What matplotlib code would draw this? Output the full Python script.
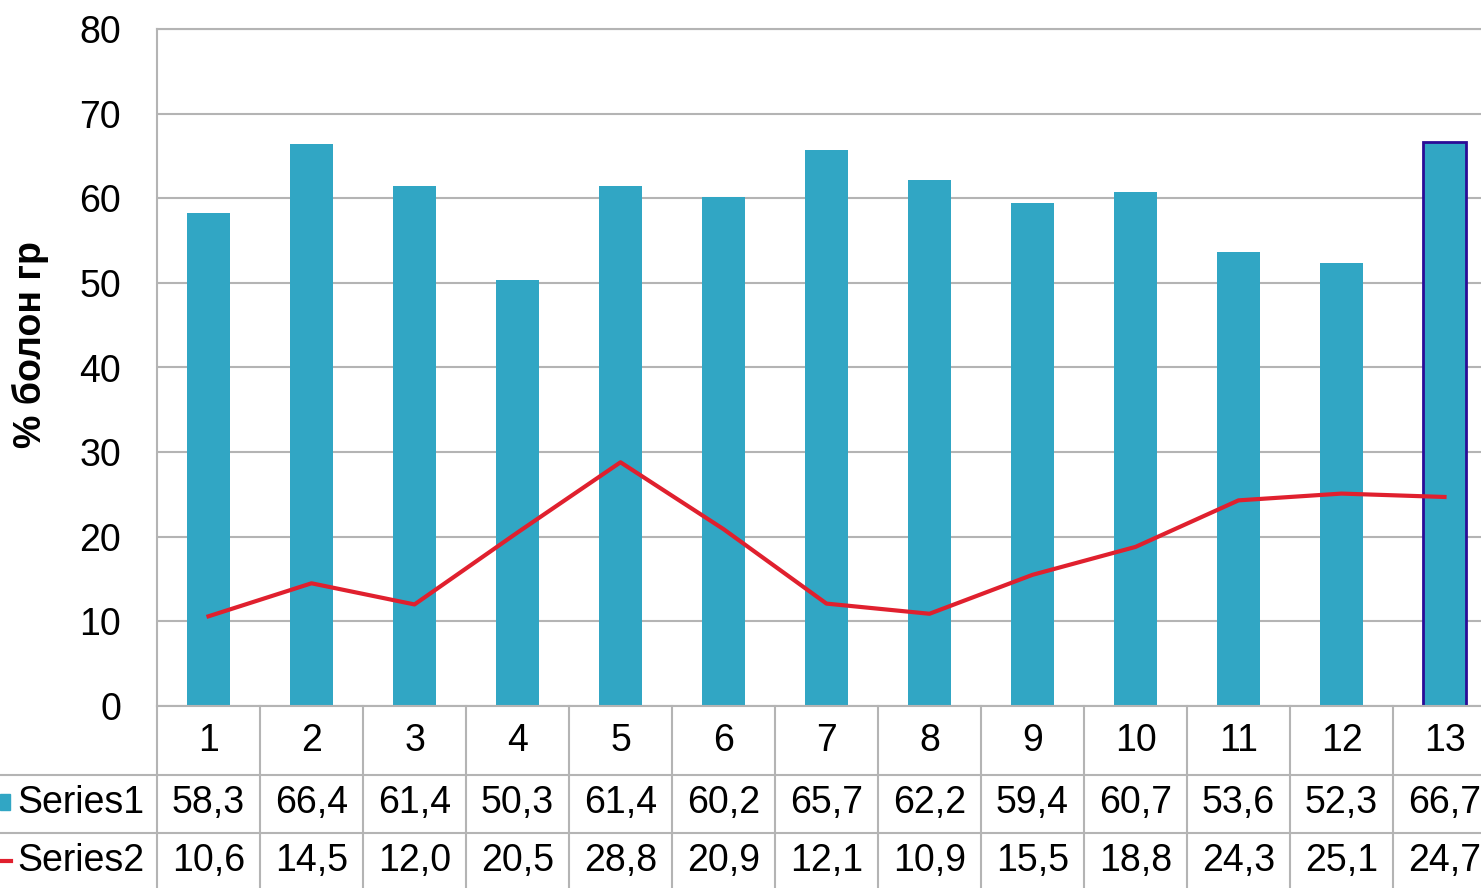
import matplotlib

matplotlib.use("Agg")
import matplotlib.pyplot as plt
from matplotlib.transforms import blended_transform_factory
from matplotlib.lines import Line2D
from matplotlib.patches import Rectangle

categories = ["1", "2", "3", "4", "5", "6", "7", "8", "9", "10", "11", "12", "13"]
series1 = [58.3, 66.4, 61.4, 50.3, 61.4, 60.2, 65.7, 62.2, 59.4, 60.7, 53.6, 52.3, 66.7]
series2 = [10.6, 14.5, 12.0, 20.5, 28.8, 20.9, 12.1, 10.9, 15.5, 18.8, 24.3, 25.1, 24.7]
series_names = ["Series1", "Series2"]
y_label = "% болон гр"

W, H = 1481, 888
BAR_COLOR = "#31A6C4"
LINE_COLOR = "#E0202E"
GRID_COLOR = "#B4B4B4"
FS = 27

plt.rcParams["font.family"] = ["Liberation Sans", "DejaVu Sans"]

fig = plt.figure(figsize=(W / 100, H / 100), dpi=100)
left, right, top, bottom = 157, 1496, 29, 706
ax = fig.add_axes([left / W, 1 - bottom / H, (right - left) / W, (bottom - top) / H])

x = list(range(len(categories)))
bars = ax.bar(x, series1, width=0.41, color=BAR_COLOR, zorder=2)
# last bar is shown selected in the original
bars[-1].set_edgecolor("#2A0C96")
bars[-1].set_linewidth(2)
ax.plot(x, series2, color=LINE_COLOR, lw=3, zorder=3)

ax.set_xlim(-0.5, len(categories) - 0.5)
ax.set_ylim(0, 80)
ax.set_yticks(range(0, 81, 10))
ax.yaxis.grid(True, color=GRID_COLOR, lw=1.5, zorder=0)
ax.set_axisbelow(True)
ax.set_xticks([])
ax.tick_params(axis="y", length=0, pad=26, labelsize=FS)
for s in ax.spines.values():
    s.set_color(GRID_COLOR)
    s.set_linewidth(1.5)

fig.text(30 / W, 1 - 345 / H, y_label, rotation=90, ha="center", va="center",
         fontsize=FS, fontweight="bold")

# data table below the plot
tr = blended_transform_factory(ax.transData, fig.transFigure)
def fy(py):
    return 1 - py / H

row_lines = [775, 833]
for py in row_lines:
    fig.add_artist(Line2D([0, 1], [fy(py), fy(py)], color=GRID_COLOR, lw=1.5))
for i in range(len(categories) + 1):
    ax.add_line(Line2D([i - 0.5, i - 0.5], [fy(bottom), fy(H + 5)], color=GRID_COLOR,
                       lw=1.5, transform=tr, clip_on=False))

row_y = [741, 803, 861]
for i, cat in enumerate(categories):
    ax.text(i, fy(row_y[0]), cat, transform=tr, ha="center", va="center", fontsize=FS)
    ax.text(i, fy(row_y[1]), f"{series1[i]:.1f}".replace(".", ","), transform=tr,
            ha="center", va="center", fontsize=FS)
    ax.text(i, fy(row_y[2]), f"{series2[i]:.1f}".replace(".", ","), transform=tr,
            ha="center", va="center", fontsize=FS)

# legend keys and series names
fig.add_artist(Rectangle((0, fy(810)), 10 / W, 16 / H, color=BAR_COLOR))
fig.add_artist(Line2D([0, 11 / W], [fy(861), fy(861)], color=LINE_COLOR, lw=3))
fig.text(17 / W, fy(row_y[1]), series_names[0], ha="left", va="center", fontsize=FS)
fig.text(17 / W, fy(row_y[2]), series_names[1], ha="left", va="center", fontsize=FS)

fig.savefig("out.png", dpi=100)
